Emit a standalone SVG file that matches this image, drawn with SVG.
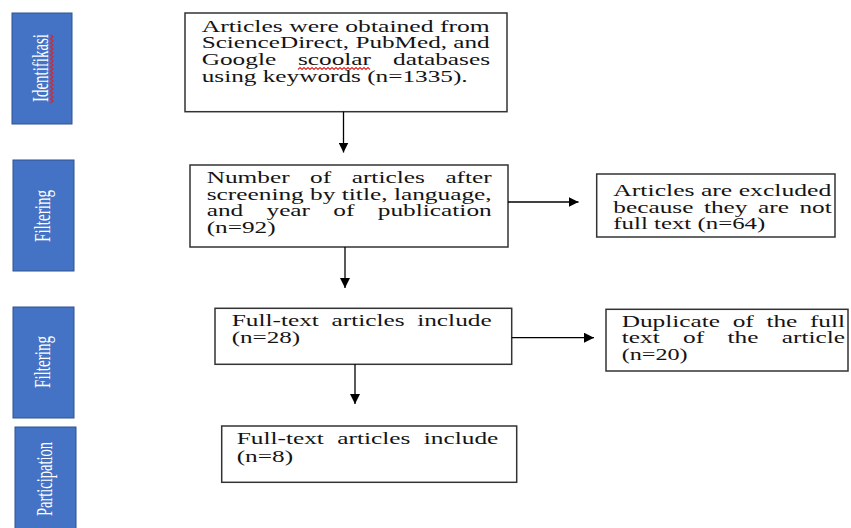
<svg xmlns="http://www.w3.org/2000/svg" width="851" height="528" viewBox="0 0 851 528">
<style>
.stage{fill:#4472C4;stroke:#2F528F;stroke-width:1}
.sl{fill:#ffffff;font-family:"Liberation Serif","Times New Roman",serif;font-size:23px}
.box{fill:#ffffff;stroke:#333333;stroke-width:1.5}
.t{fill:#141414;font-family:"Liberation Serif","Times New Roman",serif;font-size:16px}
.c{fill:none;stroke:#000000;stroke-width:1.3}
.sq{fill:none;stroke:#e02424;stroke-width:1.1}
</style>
<defs>
<marker id="ah" viewBox="0 0 10 10" refX="10" refY="5" markerWidth="10" markerHeight="10" markerUnits="userSpaceOnUse" orient="auto">
<path d="M0,0 L10,5 L0,10 z" fill="#000000"/>
</marker>
</defs>
<rect width="851" height="528" fill="#ffffff"/>

<g id="stage-identifikasi">
<rect class="stage" x="12" y="13" width="60" height="111"/>
<text class="sl" transform="translate(48,68) rotate(-90)" text-anchor="middle" textLength="68" lengthAdjust="spacingAndGlyphs">Identifikasi</text>
<path class="sq" d="M50.5,103 l2.5,-2 l-2.5,-2 l2.5,-2 l-2.5,-2 l2.5,-2 l-2.5,-2 l2.5,-2 l-2.5,-2 l2.5,-2 l-2.5,-2 l2.5,-2 l-2.5,-2 l2.5,-2 l-2.5,-2 l2.5,-2 l-2.5,-2 l2.5,-2 l-2.5,-2 l2.5,-2 l-2.5,-2 l2.5,-2 l-2.5,-2 l2.5,-2 l-2.5,-2 l2.5,-2 l-2.5,-2 l2.5,-2 l-2.5,-2 l2.5,-2 l-2.5,-2 l2.5,-2 l-2.5,-2 l2.5,-2 l-2.5,-2"/>
</g>
<g id="stage-filtering-1">
<rect class="stage" x="13" y="160" width="61" height="111"/>
<text class="sl" transform="translate(50,216) rotate(-90)" text-anchor="middle" textLength="52" lengthAdjust="spacingAndGlyphs">Filtering</text>
</g>
<g id="stage-filtering-2">
<rect class="stage" x="13" y="307" width="61" height="111"/>
<text class="sl" transform="translate(50,362) rotate(-90)" text-anchor="middle" textLength="52" lengthAdjust="spacingAndGlyphs">Filtering</text>
</g>
<g id="stage-participation">
<rect class="stage" x="15" y="427" width="61" height="110"/>
<text class="sl" transform="translate(51.5,479) rotate(-90)" text-anchor="middle" textLength="74" lengthAdjust="spacingAndGlyphs">Participation</text>
</g>

<g id="n-obtained">
<rect class="box" x="185" y="13" width="322" height="98.7"/>
<text class="t" x="201.7" y="31.7" textLength="288" lengthAdjust="spacingAndGlyphs">Articles were obtained from</text>
<text class="t" x="201.7" y="48.3" textLength="288" lengthAdjust="spacingAndGlyphs">ScienceDirect, PubMed, and</text>
<text class="t" x="201.7" y="65" textLength="74.5" lengthAdjust="spacingAndGlyphs">Google</text>
<text class="t" x="298" y="65" textLength="73" lengthAdjust="spacingAndGlyphs">scoolar</text>
<text class="t" x="393" y="65" textLength="97" lengthAdjust="spacingAndGlyphs">databases</text>
<text class="t" x="201.7" y="81.6" textLength="266" lengthAdjust="spacingAndGlyphs">using keywords (n=1335).</text>
<path class="sq" d="M298,69.5 l2,-2 l2,2 l2,-2 l2,2 l2,-2 l2,2 l2,-2 l2,2 l2,-2 l2,2 l2,-2 l2,2 l2,-2 l2,2 l2,-2 l2,2 l2,-2 l2,2 l2,-2 l2,2 l2,-2 l2,2 l2,-2 l2,2 l2,-2 l2,2 l2,-2 l2,2 l2,-2 l2,2 l2,-2 l2,2 l2,-2 l2,2 l2,-2 l2,2"/>
</g>

<g id="n-screening">
<rect class="box" x="190" y="165" width="318" height="82"/>
<text class="t" x="206.7" y="183.3" textLength="82.9" lengthAdjust="spacingAndGlyphs">Number</text>
<text class="t" x="310.1" y="183.3" textLength="21.1" lengthAdjust="spacingAndGlyphs">of</text>
<text class="t" x="351.7" y="183.3" textLength="73.1" lengthAdjust="spacingAndGlyphs">articles</text>
<text class="t" x="445.4" y="183.3" textLength="46.3" lengthAdjust="spacingAndGlyphs">after</text>
<text class="t" x="206.7" y="199.8" textLength="285" lengthAdjust="spacingAndGlyphs">screening by title, language,</text>
<text class="t" x="206.7" y="216.4" textLength="36.5" lengthAdjust="spacingAndGlyphs">and</text>
<text class="t" x="266.5" y="216.4" textLength="43.5" lengthAdjust="spacingAndGlyphs">year</text>
<text class="t" x="333.3" y="216.4" textLength="21.1" lengthAdjust="spacingAndGlyphs">of</text>
<text class="t" x="377.8" y="216.4" textLength="113.9" lengthAdjust="spacingAndGlyphs">publication</text>
<text class="t" x="206.7" y="233" textLength="69" lengthAdjust="spacingAndGlyphs">(n=92)</text>
</g>

<g id="n-excluded">
<rect class="box" x="596.7" y="174" width="238.3" height="63"/>
<text class="t" x="613.3" y="196" textLength="218" lengthAdjust="spacingAndGlyphs">Articles are excluded</text>
<text class="t" x="613.3" y="212.7" textLength="80.1" lengthAdjust="spacingAndGlyphs">because</text>
<text class="t" x="703.9" y="212.7" textLength="43.6" lengthAdjust="spacingAndGlyphs">they</text>
<text class="t" x="758" y="212.7" textLength="30.9" lengthAdjust="spacingAndGlyphs">are</text>
<text class="t" x="799.4" y="212.7" textLength="32.3" lengthAdjust="spacingAndGlyphs">not</text>
<text class="t" x="613.3" y="229.3" textLength="152" lengthAdjust="spacingAndGlyphs">full text (n=64)</text>
</g>

<g id="n-fulltext-28">
<rect class="box" x="215" y="308.3" width="296.7" height="56"/>
<text class="t" x="231.7" y="326" textLength="87.2" lengthAdjust="spacingAndGlyphs">Full-text</text>
<text class="t" x="331.5" y="326" textLength="73.1" lengthAdjust="spacingAndGlyphs">articles</text>
<text class="t" x="417.2" y="326" textLength="74.5" lengthAdjust="spacingAndGlyphs">include</text>
<text class="t" x="231.7" y="343.3" textLength="68.5" lengthAdjust="spacingAndGlyphs">(n=28)</text>
</g>

<g id="n-duplicate">
<rect class="box" x="606" y="309.3" width="242" height="61.7"/>
<text class="t" x="621.7" y="326.7" textLength="98.4" lengthAdjust="spacingAndGlyphs">Duplicate</text>
<text class="t" x="732.7" y="326.7" textLength="21.1" lengthAdjust="spacingAndGlyphs">of</text>
<text class="t" x="766.4" y="326.7" textLength="30.9" lengthAdjust="spacingAndGlyphs">the</text>
<text class="t" x="809.9" y="326.7" textLength="35.1" lengthAdjust="spacingAndGlyphs">full</text>
<text class="t" x="621.7" y="343.3" textLength="38" lengthAdjust="spacingAndGlyphs">text</text>
<text class="t" x="683.1" y="343.3" textLength="21.1" lengthAdjust="spacingAndGlyphs">of</text>
<text class="t" x="727.6" y="343.3" textLength="30.9" lengthAdjust="spacingAndGlyphs">the</text>
<text class="t" x="781.8" y="343.3" textLength="63.2" lengthAdjust="spacingAndGlyphs">article</text>
<text class="t" x="621.7" y="360" textLength="66" lengthAdjust="spacingAndGlyphs">(n=20)</text>
</g>

<g id="n-fulltext-8">
<rect class="box" x="221.7" y="426" width="295" height="56.3"/>
<text class="t" x="236.7" y="444.3" textLength="87.2" lengthAdjust="spacingAndGlyphs">Full-text</text>
<text class="t" x="337.3" y="444.3" textLength="73.1" lengthAdjust="spacingAndGlyphs">articles</text>
<text class="t" x="423.8" y="444.3" textLength="74.5" lengthAdjust="spacingAndGlyphs">include</text>
<text class="t" x="236.7" y="461.7" textLength="56.4" lengthAdjust="spacingAndGlyphs">(n=8)</text>
</g>

<g id="connectors">
<line class="c" x1="343.5" y1="111.7" x2="343.5" y2="152.5" marker-end="url(#ah)"/>
<line class="c" x1="345" y1="247" x2="345" y2="288" marker-end="url(#ah)"/>
<line class="c" x1="508" y1="202" x2="578.5" y2="202" marker-end="url(#ah)"/>
<line class="c" x1="355" y1="364.3" x2="355" y2="404" marker-end="url(#ah)"/>
<line class="c" x1="511.7" y1="337.7" x2="594" y2="337.7" marker-end="url(#ah)"/>
</g>
</svg>
